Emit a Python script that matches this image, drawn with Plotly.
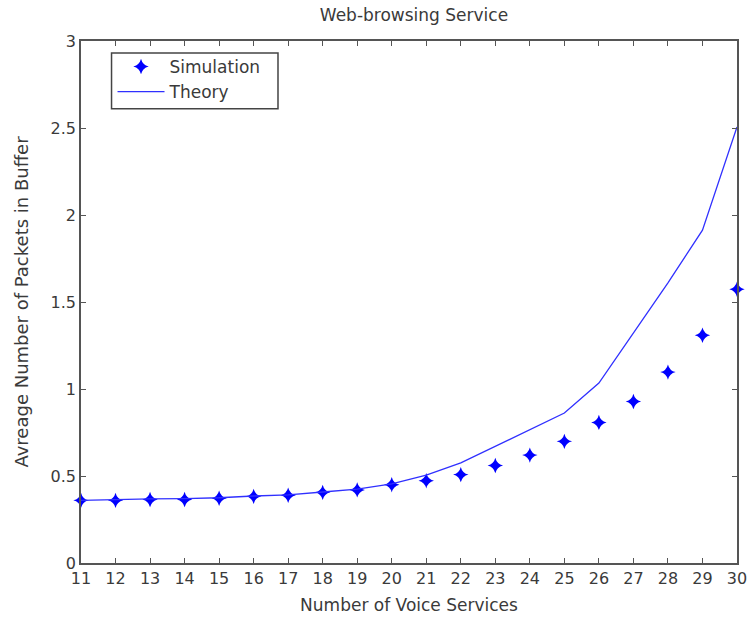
import plotly.graph_objects as go

voice_services = list(range(11, 31))
simulation = [0.36, 0.36, 0.365, 0.365, 0.372, 0.383, 0.389, 0.406, 0.42, 0.45,
              0.473, 0.508, 0.56, 0.62, 0.699, 0.808, 0.928, 1.097, 1.309, 1.573]
theory = [0.36, 0.365, 0.368, 0.37, 0.375, 0.385, 0.392, 0.408, 0.425, 0.455,
          0.505, 0.575, 0.67, 0.766, 0.862, 1.034, 1.32, 1.61, 1.913, 2.506]
x_ticks = list(range(11, 31))
y_ticks = [0, 0.5, 1, 1.5, 2, 2.5, 3]

font = "DejaVu Sans, Arial, sans-serif"
txt = "#3a3a3a"
fig = go.Figure()
fig.add_trace(go.Scatter(
    x=voice_services, y=simulation, mode="markers", name="Simulation",
    marker=dict(symbol="star-diamond", size=11, color="blue", line=dict(width=0)),
    cliponaxis=False,
))
fig.add_trace(go.Scatter(
    x=voice_services, y=theory, mode="lines", name="Theory",
    line=dict(color="#3030ff", width=1.3), cliponaxis=False,
))

axis_common = dict(
    showline=True, linecolor="#555", linewidth=1.5, mirror="ticks",
    ticks="inside", ticklen=5, tickcolor="#555", showgrid=False, zeroline=False,
    tickfont=dict(family=font, size=16, color=txt),
)
fig.update_layout(
    width=756, height=621,
    margin=dict(l=81, r=9, t=41, b=57),
    paper_bgcolor="white", plot_bgcolor="white",
    title=dict(text="Web-browsing Service", x=(81 + 747) / 2 / 756, xanchor="center",
               y=1 - 15 / 621, yanchor="middle",
               font=dict(family=font, size=17, color=txt)),
    xaxis=dict(range=[11, 30], tickvals=x_ticks,
               title=dict(text="Number of Voice Services", standoff=12,
                          font=dict(family=font, size=17, color=txt)),
               **axis_common),
    yaxis=dict(range=[0, 3], tickvals=y_ticks,
               title=dict(text="Avreage Number of Packets in Buffer", standoff=17,
                          font=dict(family=font, size=18, color=txt)),
               **axis_common),
    legend=dict(x=(113 - 81) / 666, y=(564 - 48) / 524, xanchor="left", yanchor="top",
                borderwidth=0, bgcolor="rgba(0,0,0,0)",
                font=dict(family=font, size=17, color=txt),
                tracegroupgap=0, itemwidth=47),
    shapes=[dict(type="rect", xref="paper", yref="paper",
                 x0=(112 - 81) / 666, x1=(281 - 81) / 666,
                 y0=(564 - 108) / 524, y1=(564 - 52) / 524,
                 line=dict(color="#444", width=1.5), fillcolor="rgba(0,0,0,0)",
                 layer="above")],
    showlegend=True,
)
fig.write_html("out.html")
